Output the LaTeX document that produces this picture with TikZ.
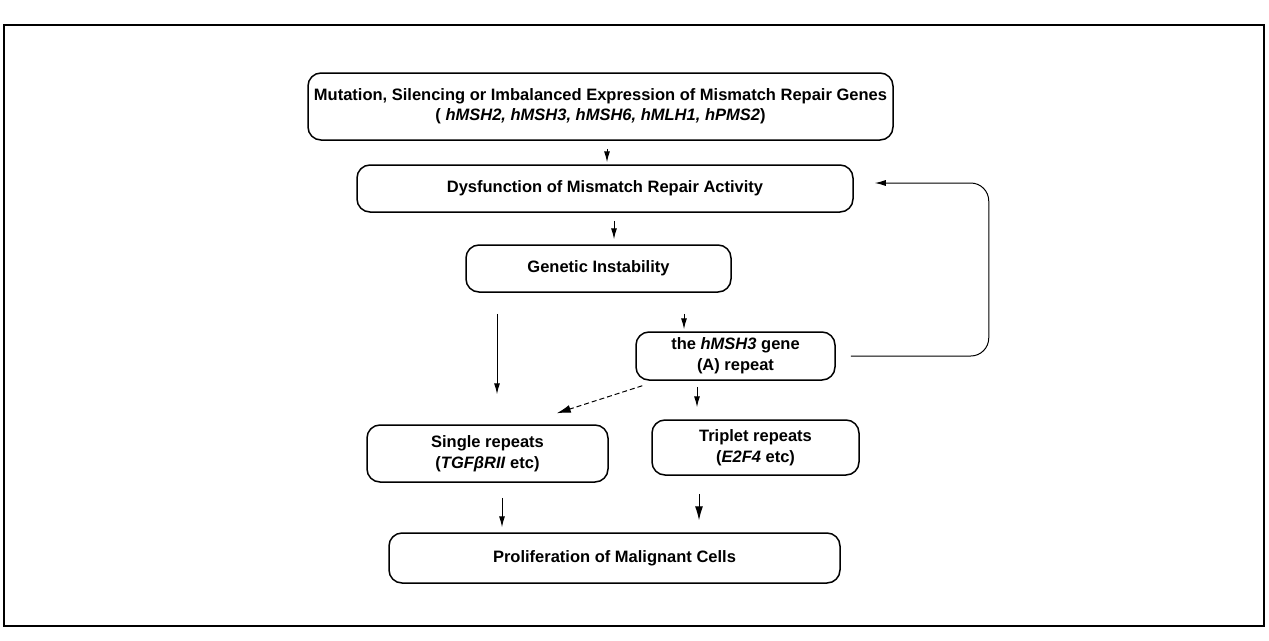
\documentclass[tikz,border=0pt]{standalone}
\usepackage{fontspec}
\setmainfont{Liberation Sans}
\usetikzlibrary{arrows.meta,calc}
\begin{document}
\begin{tikzpicture}[x=1pt,y=-1pt,
  box/.style={draw, line width=1.5pt, rounded corners=13pt, align=center, inner sep=0pt,
    font=\bfseries\fontsize{16.5}{21}\selectfont},
  arr/.style={line width=1pt, -{Latex[length=11pt,width=6pt]}},
  bigarr/.style={line width=1pt, -{Latex[length=14pt,width=8pt]}},
  frame/.style={draw, line width=1.2pt, inner sep=0pt}]
\useasboundingbox (0,0) rectangle (1269,640);
\node[frame, minimum width=1260, minimum height=601] (frm) at (634,325.5) {};
\node[box, minimum width=585, minimum height=67, font=\bfseries\fontsize{16.5}{20}\selectfont] (top) at (600.5,106.5)
  {Mutation, Silencing or Imbalanced Expression of Mismatch Repair Genes\\
   ( \textit{hMSH2, hMSH3, hMSH6, hMLH1, hPMS2\/})};
\node[box, minimum width=496, minimum height=47] (dys) at (605,188.5)
  {Dysfunction of Mismatch Repair Activity};
\node[box, minimum width=265, minimum height=47] (gi) at (598.5,268.5)
  {Genetic Instability};
\node[box, minimum width=199, minimum height=48] (hm) at (735.5,356)
  {the \textit{hMSH3} gene\\(A) repeat};
\node[box, minimum width=241, minimum height=57] (sr) at (487.5,453.5)
  {Single repeats\\(\textit{TGFβRII\/} etc)};
\node[box, minimum width=207, minimum height=55] (tr) at (755.5,447.5)
  {Triplet repeats\\(\textit{E2F4} etc)};
\node[box, minimum width=451, minimum height=50] (pr) at (614.5,558)
  {Proliferation of Malignant Cells};
% arrow anchor points
\coordinate (srN) at ($(sr.north)+(9.5,0)$);
\coordinate (hmN) at ($(hm.north)+(-51.5,0)$);
\coordinate (trN) at ($(tr.north)+(-58.5,0)$);
\coordinate (srS) at ($(sr.south)+(14.5,0)$);
\coordinate (trS) at ($(tr.south)+(-56.5,0)$);
% arrows
\draw[arr, shorten <=8pt, shorten >=2pt] ([xshift=6.5pt]top.south) -- ([xshift=2pt]dys.north);
\draw[arr, shorten <=8pt, shorten >=5pt] ([xshift=9pt]dys.south) -- ([xshift=15.5pt]gi.north);
\draw[arr, shorten <=21pt, shorten >=30pt] (gi.south -| srN) -- (srN);
\draw[arr, shorten <=21pt, shorten >=2pt] (gi.south -| hmN) -- (hmN);
\draw[bigarr, dash pattern=on 5pt off 3pt] ($(hm.south west)+(7,5)$) -- ($(sr.north east)+(-52,-11)$);
\draw[arr, shorten <=6pt, shorten >=12pt] (hm.south -| trN) -- (trN);
\draw[arr, shorten <=15pt, shorten >=5pt] (srS) -- (pr.north -| srS);
\draw[bigarr, shorten <=18pt, shorten >=12pt] (trS) -- (pr.north -| trS);
\draw[arr, rounded corners=18pt] ($(hm.east)+(15,0)$) -| ($(dys.east)+(135,-5.5)$) -- ($(dys.east)+(21,-5.5)$);
\end{tikzpicture}
\end{document}
